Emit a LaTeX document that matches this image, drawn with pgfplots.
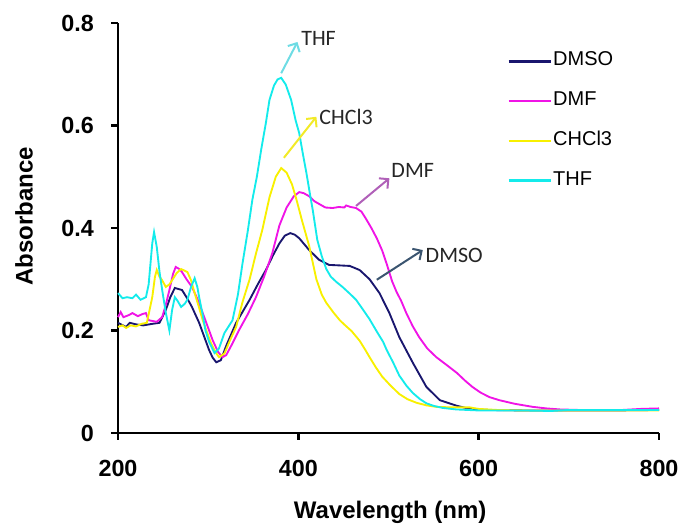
\documentclass[border=0pt]{standalone}
\usepackage{fontspec}
\setmainfont{Liberation Sans}
\newfontfamily\calib{Carlito}
\usepackage{pgfplots}
\pgfplotsset{compat=1.18}
\usepackage{pgfplotstable}
\usetikzlibrary{arrows.meta}
\definecolor{cdmso}{RGB}{25,22,110}
\definecolor{cdmf}{RGB}{240,20,230}
\definecolor{cchcl}{RGB}{248,240,0}
\definecolor{cthf}{RGB}{20,235,235}
\definecolor{athf}{RGB}{110,220,228}
\definecolor{achcl}{RGB}{242,234,40}
\definecolor{admf}{RGB}{176,96,184}
\definecolor{admso}{RGB}{59,85,112}

\pgfplotstableread{
x y
200 0.215
209 0.207
213 0.215
220 0.212
228 0.210
238 0.213
246 0.215
253 0.240
258 0.265
263 0.283
271 0.279
277 0.262
282 0.246
290 0.215
301 0.162
305 0.147
309 0.138
314 0.142
320 0.170
331 0.215
346 0.260
355 0.290
364 0.318
372 0.347
379 0.370
385 0.385
391 0.390
396 0.387
401 0.380
412 0.357
423 0.338
434 0.328
446 0.327
457 0.326
468 0.318
479 0.300
490 0.273
501 0.234
512 0.187
527 0.137
542 0.090
557 0.064
576 0.053
590 0.047
610 0.045
650 0.044
700 0.044
750 0.044
800 0.045
}\dmso

\pgfplotstableread{
x y
200 0.226
203 0.236
206 0.226
212 0.230
216 0.234
222 0.228
227 0.232
231 0.234
234 0.220
243 0.217
249 0.226
253 0.250
257 0.279
261 0.310
264 0.324
268 0.320
271 0.314
276 0.300
282 0.285
288 0.262
294 0.234
305 0.181
311 0.158
316 0.148
320 0.152
327 0.175
334 0.200
344 0.232
353 0.265
362 0.305
371 0.350
379 0.405
387 0.440
395 0.462
401 0.470
406 0.468
412 0.462
418 0.452
423 0.447
430 0.440
438 0.439
445 0.441
451 0.440
453 0.444
458 0.441
464 0.439
470 0.432
475 0.418
481 0.400
487 0.380
493 0.356
498 0.330
504 0.296
509 0.275
514 0.258
520 0.233
527 0.208
534 0.187
543 0.165
553 0.148
565 0.132
576 0.117
585 0.102
593 0.090
602 0.079
612 0.070
623 0.064
640 0.057
660 0.051
675 0.048
690 0.046
710 0.045
760 0.045
780 0.047
800 0.048
}\dmf

\pgfplotstableread{
x y
200 0.207
205 0.210
209 0.205
214 0.210
220 0.208
226 0.213
232 0.215
235 0.240
238 0.265
241 0.305
243 0.318
246 0.305
249 0.298
253 0.285
257 0.290
260 0.298
265 0.312
270 0.320
277 0.314
281 0.298
284 0.279
289 0.250
294 0.220
299 0.195
303 0.176
308 0.158
312 0.148
318 0.155
324 0.180
331 0.207
338 0.255
346 0.300
353 0.350
360 0.396
368 0.460
375 0.500
381 0.517
387 0.508
393 0.485
398 0.455
404 0.415
412 0.365
420 0.300
426 0.270
431 0.254
439 0.235
446 0.220
452 0.210
459 0.199
468 0.180
474 0.163
479 0.148
486 0.128
493 0.110
502 0.093
512 0.076
521 0.066
531 0.059
542 0.054
553 0.051
570 0.050
590 0.050
600 0.047
620 0.045
650 0.044
700 0.044
800 0.044
}\chcl

\pgfplotstableread{
x y
200 0.273
205 0.263
210 0.265
216 0.263
220 0.270
225 0.260
231 0.265
234 0.290
236 0.330
238 0.370
240 0.392
243 0.363
246 0.315
249 0.279
253 0.235
257 0.200
260 0.240
263 0.265
266 0.258
270 0.246
274 0.252
277 0.260
281 0.285
285 0.302
288 0.285
290 0.265
294 0.230
297 0.200
301 0.178
307 0.156
312 0.165
318 0.195
327 0.220
333 0.270
338 0.330
344 0.395
349 0.455
354 0.500
359 0.555
364 0.605
368 0.650
373 0.678
377 0.690
381 0.693
386 0.680
392 0.650
397 0.610
401 0.585
405 0.545
409 0.507
413 0.465
416 0.435
421 0.377
426 0.345
431 0.320
436 0.305
442 0.295
449 0.285
457 0.272
464 0.260
472 0.240
479 0.222
487 0.198
494 0.178
498 0.162
505 0.138
512 0.112
520 0.092
527 0.078
535 0.066
542 0.058
550 0.053
560 0.049
575 0.046
600 0.044
650 0.044
680 0.043
700 0.045
800 0.045
}\thf

\begin{document}
\begin{tikzpicture}
\begin{axis}[
  scale only axis,
  width=405.75pt, height=307.5pt,
  xmin=200, xmax=800, ymin=0, ymax=0.8,
  axis x line*=bottom, axis y line*=left,
  axis line style={line width=2.2pt, black},
  xtick={200,400,600,800},
  ytick={0,0.2,0.4,0.6,0.8},
  tick align=outside,
  major tick length=5pt,
  tick style={line width=2.2pt, black},
  /pgf/number format/assume math mode=true,
  tick label style={font=\bfseries\fontsize{17.5}{20}\selectfont, inner sep=0pt},
  yticklabel style={anchor=east, xshift=-13pt},
  xticklabel style={anchor=north, yshift=-15pt},
  xlabel={Wavelength (nm)},
  ylabel={Absorbance},
  label style={font=\bfseries\fontsize{18}{21}\selectfont},
  xlabel style={at={(axis description cs:0.503,-0.1927)}, anchor=center},
  ylabel style={at={(axis description cs:-0.1738,0.529)}, anchor=center},
  clip=false,
  legend style={draw=none, fill=none, at={(axis description cs:0.712,0.941)}, anchor=north west,
    font=\fontsize{15}{18}\selectfont, row sep=17pt,
    nodes={inner sep=1pt, text height=10.8pt, text depth=0pt}},
  legend cell align=left,
  legend image code/.code={\draw[#1, line width=1.8pt] (-4pt,-2pt) -- (27.5pt,-2pt);},
]
\addplot[cdmso, line width=1.4pt] table[x=x,y=y] {\dmso};
\addlegendentry{DMSO}
\addplot[cdmf, line width=1.4pt] table[x=x,y=y] {\dmf};
\addlegendentry{DMF}
\addplot[cchcl, line width=1.4pt] table[x=x,y=y] {\chcl};
\addlegendentry{CHCl3}
\addplot[cthf, line width=1.4pt] table[x=x,y=y] {\thf};
\addlegendentry{THF}

\draw[athf, line width=1.5pt, -{Straight Barb[length=5pt,width=10pt]}] (axis cs:381,0.702) -- (axis cs:399,0.763);
\draw[achcl, line width=1.5pt, -{Straight Barb[length=5pt,width=10pt]}] (axis cs:384,0.537) -- (axis cs:420,0.617);
\draw[admf, line width=1.5pt, -{Straight Barb[length=5pt,width=10pt]}] (axis cs:464,0.443) -- (axis cs:501,0.497);
\draw[admso, line width=1.5pt, -{Straight Barb[length=5pt,width=10pt]}] (axis cs:487,0.299) -- (axis cs:538,0.357);

\node[anchor=west, inner sep=0pt, text=black!85, font=\calib\fontsize{16.5}{19}\selectfont] at (axis cs:403,0.769) {THF};
\node[anchor=west, inner sep=0pt, text=black!85, font=\calib\fontsize{16.5}{19}\selectfont] at (axis cs:423,0.617) {CHCl3};
\node[anchor=west, inner sep=0pt, text=black!85, font=\calib\fontsize{16.5}{19}\selectfont] at (axis cs:503,0.513) {DMF};
\node[anchor=west, inner sep=0pt, text=black!85, font=\calib\fontsize{16.5}{19}\selectfont] at (axis cs:541,0.347) {DMSO};

\coordinate (ll) at (rel axis cs:0,0);
\coordinate (ur) at (rel axis cs:1,1);
\end{axis}
\pgfresetboundingbox
\path ([shift={(-88.5pt,-68.25pt)}]ll) rectangle ([shift={(17.25pt,17.25pt)}]ur);
\end{tikzpicture}
\end{document}
